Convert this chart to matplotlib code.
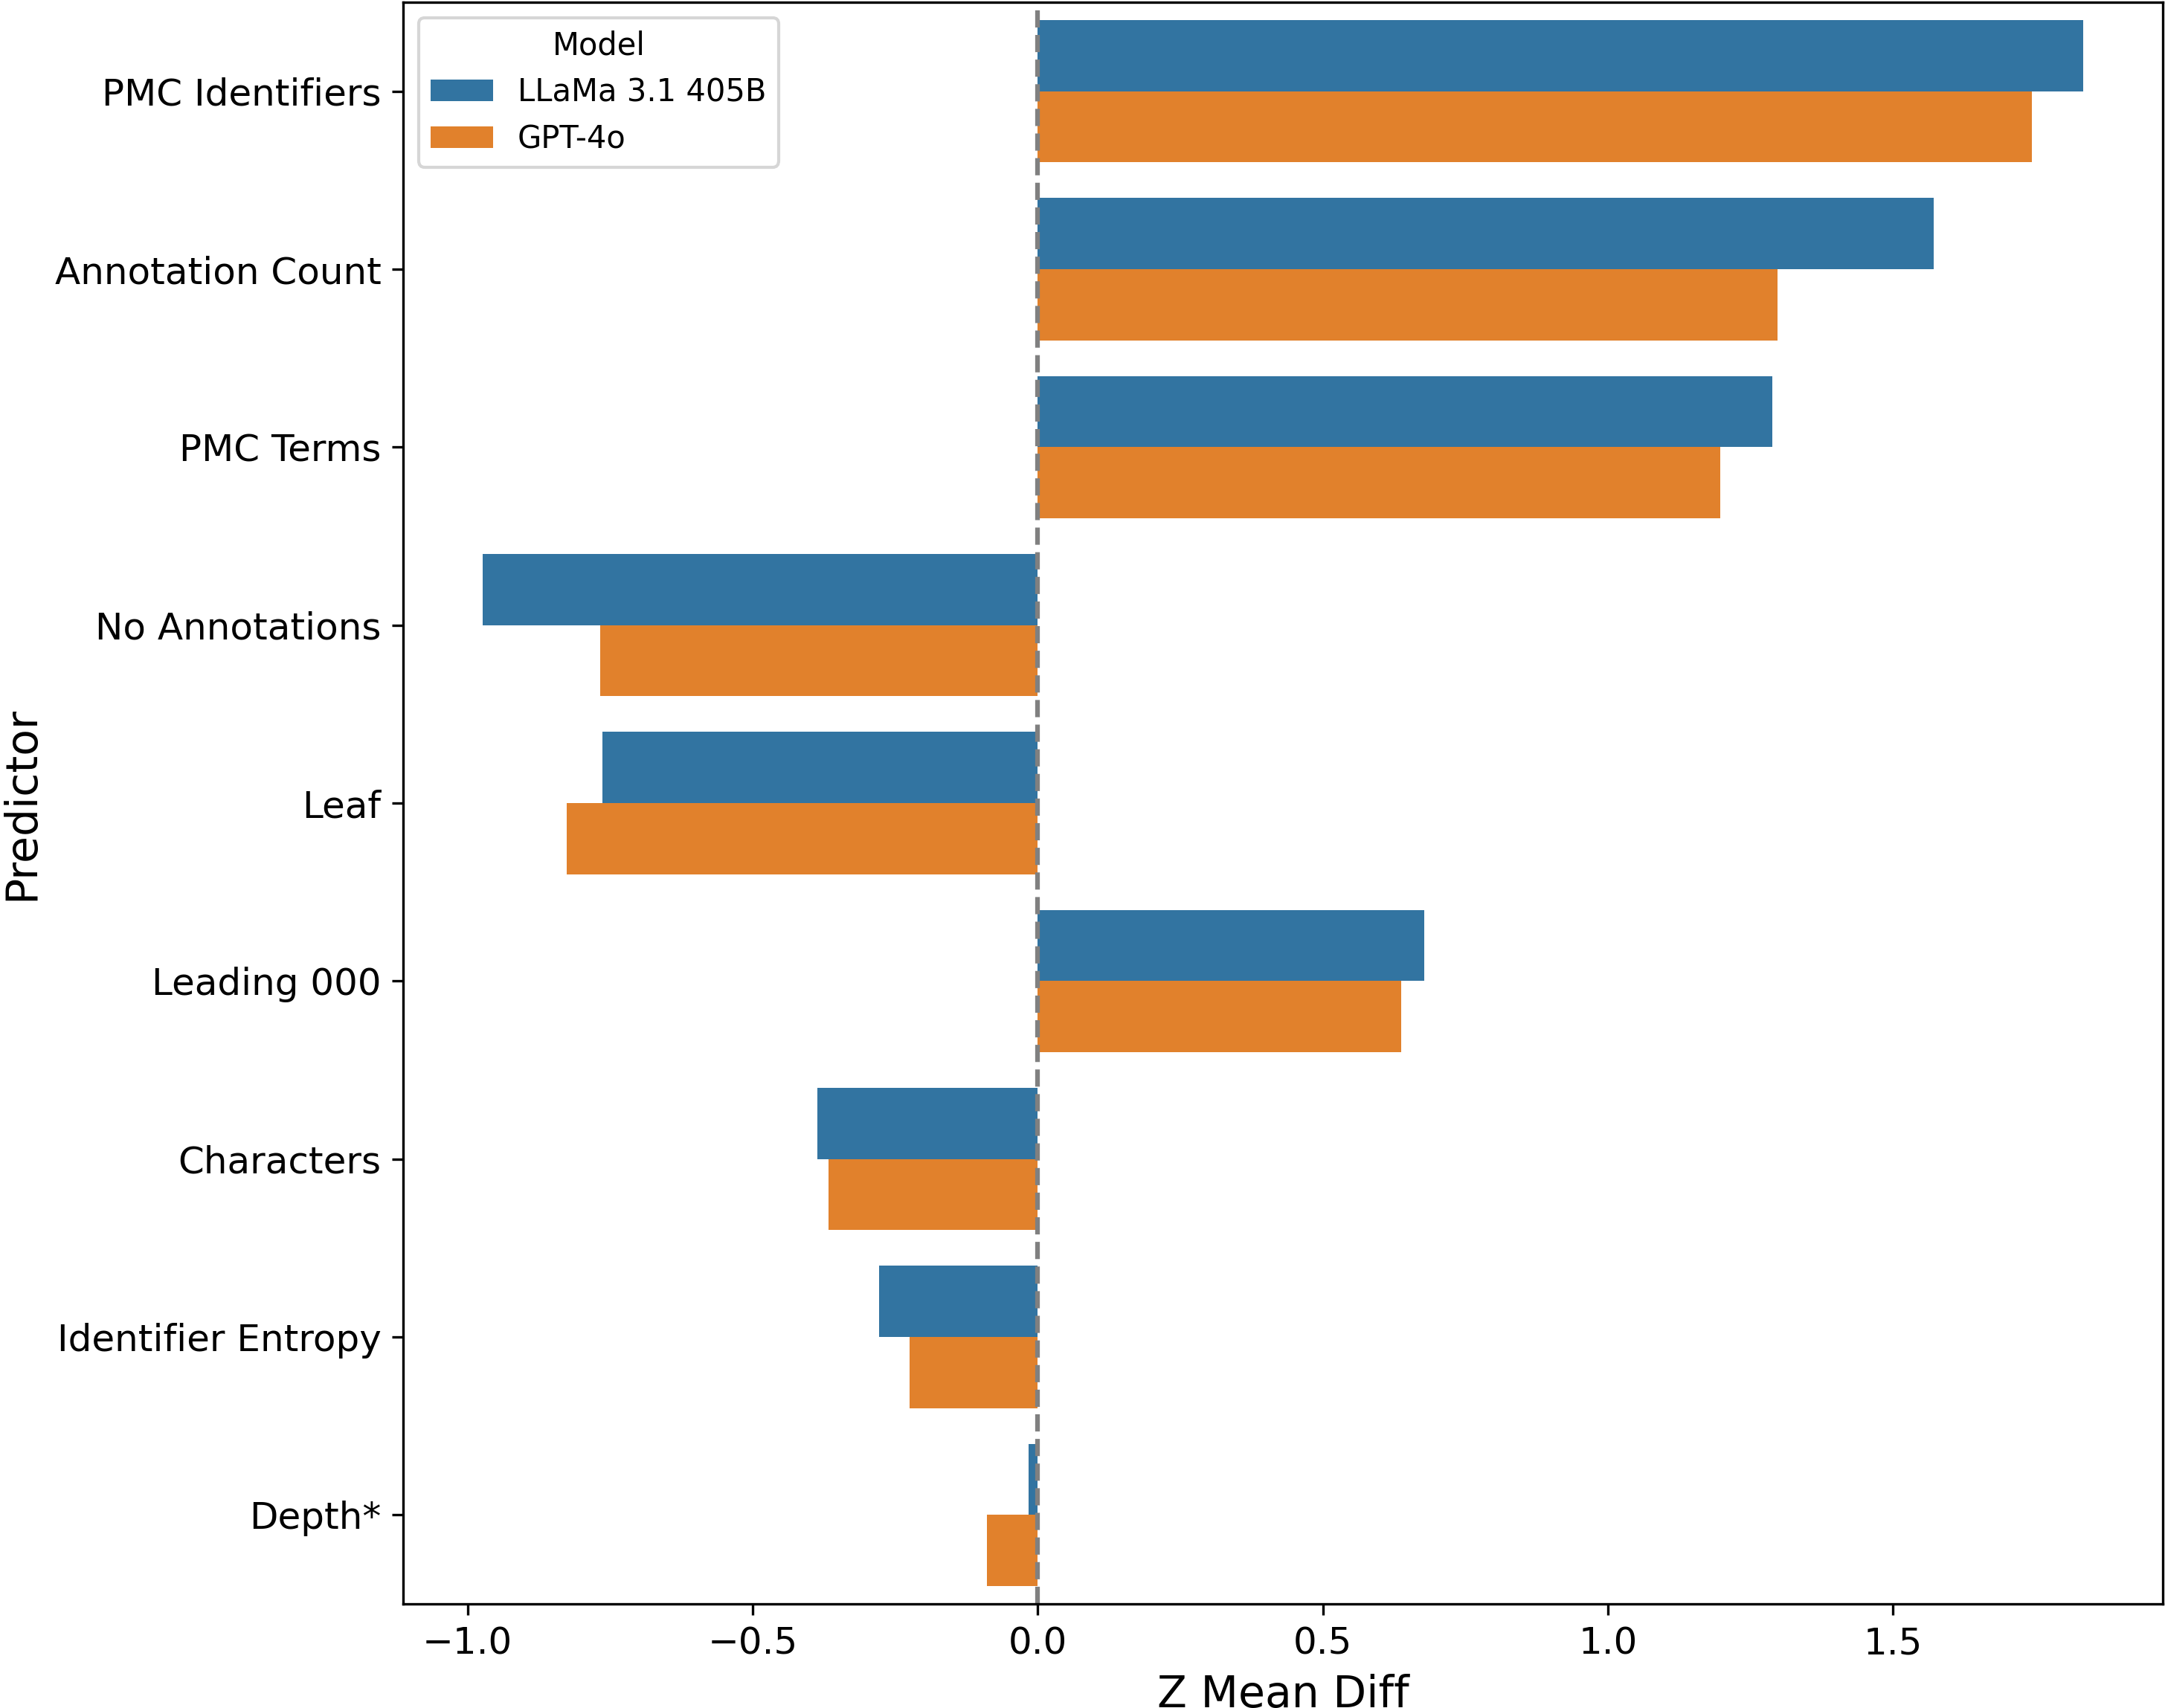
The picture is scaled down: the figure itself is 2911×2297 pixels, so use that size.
import matplotlib
matplotlib.use("Agg")
import matplotlib.pyplot as plt
import seaborn as sns
import pandas as pd

# ==========================================
# DATA
# ==========================================
predictors = [
    "PMC Identifiers", "Annotation Count", "PMC Terms", "No Annotations",
    "Leaf", "Leading 000", "Characters", "Identifier Entropy", "Depth*",
]
models = ["LLaMa 3.1 405B", "GPT-4o"]
llama_diff = [1.833, 1.571, 1.289, -0.973, -0.763, 0.678, -0.387, -0.278, -0.016]
gpt4o_diff = [1.743, 1.298, 1.197, -0.767, -0.826, 0.638, -0.367, -0.225, -0.089]

df = pd.DataFrame({
    "Predictor": predictors * 2,
    "Z Mean Diff": llama_diff + gpt4o_diff,
    "Model": [models[0]] * len(predictors) + [models[1]] * len(predictors),
})

# ==========================================
# PLOT
# ==========================================
fig = plt.figure(figsize=(2911 / 300, 2297 / 300), dpi=300)
ax = fig.add_axes([0.1861, 0.0609, 0.8129, 0.9378])

sns.barplot(data=df, x="Z Mean Diff", y="Predictor", hue="Model",
            order=predictors, hue_order=models, orient="h", ax=ax)
ax.axvline(0, color="gray", linestyle="--", linewidth=1.5)

ax.set_xlabel("Z Mean Diff", fontsize=14)
ax.set_ylabel("Predictor", fontsize=14)
ax.tick_params(axis="both", labelsize=12)
ax.legend(title="Model", loc="upper left", fontsize=10, title_fontsize=10)

fig.savefig("out.png", dpi=300)
